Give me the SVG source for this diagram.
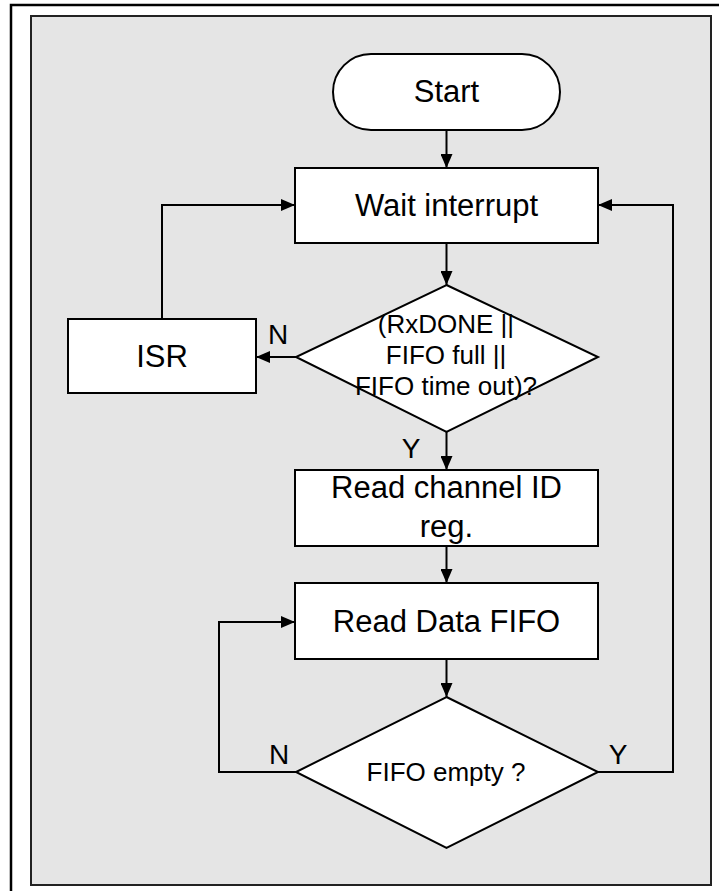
<svg xmlns="http://www.w3.org/2000/svg" width="719" height="891" viewBox="0 0 719 891">
<style>
.shape{fill:#ffffff;stroke:#000000;stroke-width:2}
.t{font-family:"Liberation Sans",Arial,sans-serif;font-size:31px;fill:#000000;text-anchor:middle}
.td{font-family:"Liberation Sans",Arial,sans-serif;font-size:26px;fill:#000000;text-anchor:middle}
.lbl{font-family:"Liberation Sans",Arial,sans-serif;font-size:28px;fill:#000000;text-anchor:middle}
.conn{fill:none;stroke:#000000;stroke-width:2}
</style>
<defs>
<marker id="arr" viewBox="0 0 14 12" refX="14" refY="6" markerWidth="14" markerHeight="12" markerUnits="userSpaceOnUse" orient="auto">
<path d="M0,0 L14,6 L0,12 Z" fill="#000000"/>
</marker>
</defs>
<rect x="0" y="0" width="719" height="891" fill="#ffffff"/>
<rect x="11" y="5" width="760" height="940" fill="none" stroke="#000000" stroke-width="2.5"/>
<rect x="31" y="16" width="680" height="869" fill="#e5e5e5" stroke="#222222" stroke-width="2"/>

<g id="connectors">
<line class="conn" x1="446.5" y1="130" x2="446.5" y2="168" marker-end="url(#arr)"/>
<line class="conn" x1="446.5" y1="243" x2="446.5" y2="285" marker-end="url(#arr)"/>
<line class="conn" x1="296" y1="357" x2="256" y2="357" marker-end="url(#arr)"/>
<polyline class="conn" points="162,319 162,205 295,205" marker-end="url(#arr)"/>
<line class="conn" x1="446.5" y1="432" x2="446.5" y2="470" marker-end="url(#arr)"/>
<line class="conn" x1="446.5" y1="546" x2="446.5" y2="583" marker-end="url(#arr)"/>
<line class="conn" x1="446.5" y1="659" x2="446.5" y2="697" marker-end="url(#arr)"/>
<polyline class="conn" points="296,772 219,772 219,622 295,622" marker-end="url(#arr)"/>
<polyline class="conn" points="598,772 673,772 673,205 598,205" marker-end="url(#arr)"/>
<text class="lbl" x="278" y="344">N</text>
<text class="lbl" x="411" y="458">Y</text>
<text class="lbl" x="279" y="764">N</text>
<text class="lbl" x="618" y="764">Y</text>
</g>

<g id="start">
<rect class="shape" x="333" y="54" width="227" height="76" rx="38" ry="38"/>
<text class="t" x="446.5" y="102">Start</text>
</g>

<g id="wait">
<rect class="shape" x="295" y="168" width="303" height="75"/>
<text class="t" x="446.5" y="216">Wait interrupt</text>
</g>

<g id="cond">
<polygon class="shape" points="446.5,285 598,357 446.5,432 296,357"/>
<text class="td" x="446" y="333">(RxDONE ||</text>
<text class="td" x="446" y="364">FIFO full ||</text>
<text class="td" x="446" y="395">FIFO time out)?</text>
</g>

<g id="isr">
<rect class="shape" x="68" y="319" width="188" height="74"/>
<text class="t" x="162" y="367">ISR</text>
</g>

<g id="readid">
<rect class="shape" x="295" y="470" width="303" height="76"/>
<text class="t" x="446.5" y="498">Read channel ID</text>
<text class="t" x="446.5" y="537">reg.</text>
</g>

<g id="readdata">
<rect class="shape" x="295" y="583" width="303" height="76"/>
<text class="t" x="446.5" y="632">Read Data FIFO</text>
</g>

<g id="empty">
<polygon class="shape" points="446.5,697 598,772 446.5,848 296,772"/>
<text class="td" x="446" y="781">FIFO empty ?</text>
</g>
</svg>
